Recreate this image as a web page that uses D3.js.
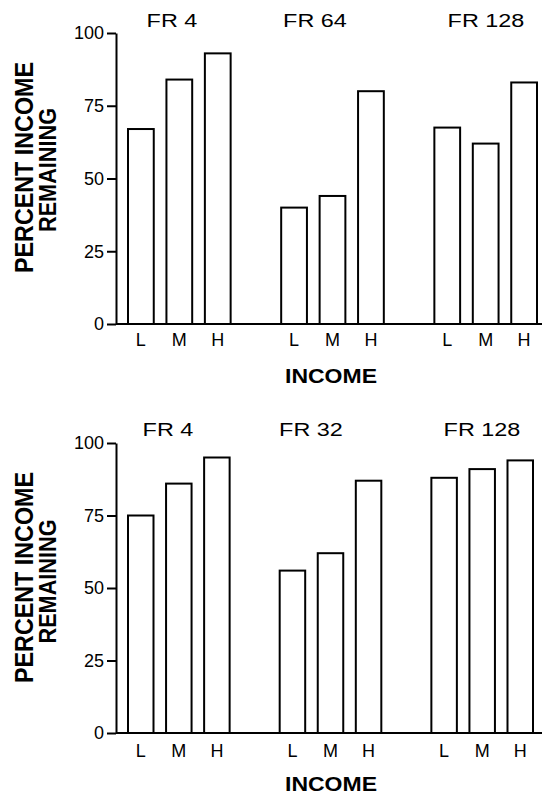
<!DOCTYPE html>
<html>
<head>
<meta charset="utf-8">
<script src="https://cdn.jsdelivr.net/npm/d3@7"></script>
<style>
  html, body { margin: 0; padding: 0; background: #fff; }
  svg { display: block; }
  text { font-family: "Liberation Sans", Arial, Helvetica, sans-serif; fill: #000; }
</style>
</head>
<body>
<svg id="chart" width="544" height="796"></svg>
<script>
// ---- data ----
const incomeLevels = ["L", "M", "H"];
const yTicks = [0, 25, 50, 75, 100];
const topSchedules = ["FR 4", "FR 64", "FR 128"];
const topValues = [
  [67, 84, 93],
  [40, 44, 80],
  [67.5, 62, 83]
];
const bottomSchedules = ["FR 4", "FR 32", "FR 128"];
const bottomValues = [
  [75, 86, 95],
  [56, 62, 87],
  [88, 91, 94]
];
const yLabelLines = ["PERCENT INCOME", "REMAINING"];
const xLabel = "INCOME";

// ---- layout ----
const panels = [
  { schedules: topSchedules, values: topValues, y0: 324, y1: 33, xr: [128, 537],
    titleX: [172, 315, 486], titleY: 27, catY: 346, xLabY: 383, xLabX: 331, yLabC: [167.5, 170] },
  { schedules: bottomSchedules, values: bottomValues, y0: 733, y1: 443, xr: [128, 533],
    titleX: [168, 311, 482], titleY: 436, catY: 757, xLabY: 791, xLabX: 331, yLabC: [577.5, 581.5] }
];
const axisX = 116, axisRight = 542;

const svg = d3.select("#chart");

panels.forEach(p => {
  const g = svg.append("g");
  const y = d3.scaleLinear().domain([0, 100]).range([p.y0, p.y1]);
  const gx = d3.scaleBand().domain(p.schedules).range(p.xr).paddingInner(0.33).paddingOuter(0);
  const ix = d3.scaleBand().domain(incomeLevels).range([0, gx.bandwidth()]).paddingInner(0.33).paddingOuter(0);

  // bars
  p.schedules.forEach((s, si) => {
    const grp = g.append("g").attr("transform", `translate(${gx(s)},0)`);
    grp.selectAll("rect").data(incomeLevels.map((c, ci) => ({ c, v: p.values[si][ci] })))
      .join("rect")
      .attr("x", d => ix(d.c))
      .attr("y", d => y(d.v))
      .attr("width", ix.bandwidth())
      .attr("height", d => y(0) - y(d.v))
      .attr("fill", "#fff")
      .attr("stroke", "#000")
      .attr("stroke-width", 2);
    grp.selectAll("text.cat").data(incomeLevels).join("text")
      .attr("class", "cat")
      .attr("x", d => ix(d) + ix.bandwidth() / 2)
      .attr("y", p.catY)
      .attr("text-anchor", "middle")
      .attr("font-size", 18)
      .text(d => d);
    // title
    const t = g.append("text")
      .attr("x", p.titleX[si]).attr("y", p.titleY)
      .attr("text-anchor", "middle")
      .attr("font-size", 18)
      .text(s);
    t.attr("textLength", t.node().getComputedTextLength() * 1.3).attr("lengthAdjust", "spacingAndGlyphs");
  });

  // y axis
  const ya = g.append("g").attr("transform", `translate(${axisX},0)`)
    .call(d3.axisLeft(y).tickValues(yTicks).tickSize(9).tickPadding(3).tickSizeOuter(0));
  ya.select(".domain").attr("stroke-width", 2).attr("stroke", "#000");
  ya.selectAll(".tick line").attr("stroke-width", 2).attr("stroke", "#000");
  ya.selectAll(".tick text").attr("font-size", 18).attr("fill", "#000")
    .style("font-family", '"Liberation Sans", Arial, sans-serif');

  // x baseline
  g.append("line").attr("x1", axisX).attr("x2", axisRight)
    .attr("y1", y(0)).attr("y2", y(0))
    .attr("stroke", "#000").attr("stroke-width", 2);

  // x label
  g.append("text").attr("x", p.xLabX).attr("y", p.xLabY)
    .attr("text-anchor", "middle").attr("font-size", 21).attr("font-weight", "bold")
    .attr("textLength", 92).attr("lengthAdjust", "spacingAndGlyphs")
    .text(xLabel);

  // y label
  const yl = [{ t: yLabelLines[0], x: 33, fs: 26, len: 211 }, { t: yLabelLines[1], x: 56, fs: 24, len: 124 }];
  yl.forEach((l, i) => {
    g.append("text")
      .attr("transform", `translate(${l.x},${p.yLabC[i]}) rotate(-90)`)
      .attr("text-anchor", "middle").attr("font-size", l.fs).attr("font-weight", "bold")
      .attr("textLength", l.len).attr("lengthAdjust", "spacingAndGlyphs")
      .text(l.t);
  });
});
</script>
</body>
</html>
